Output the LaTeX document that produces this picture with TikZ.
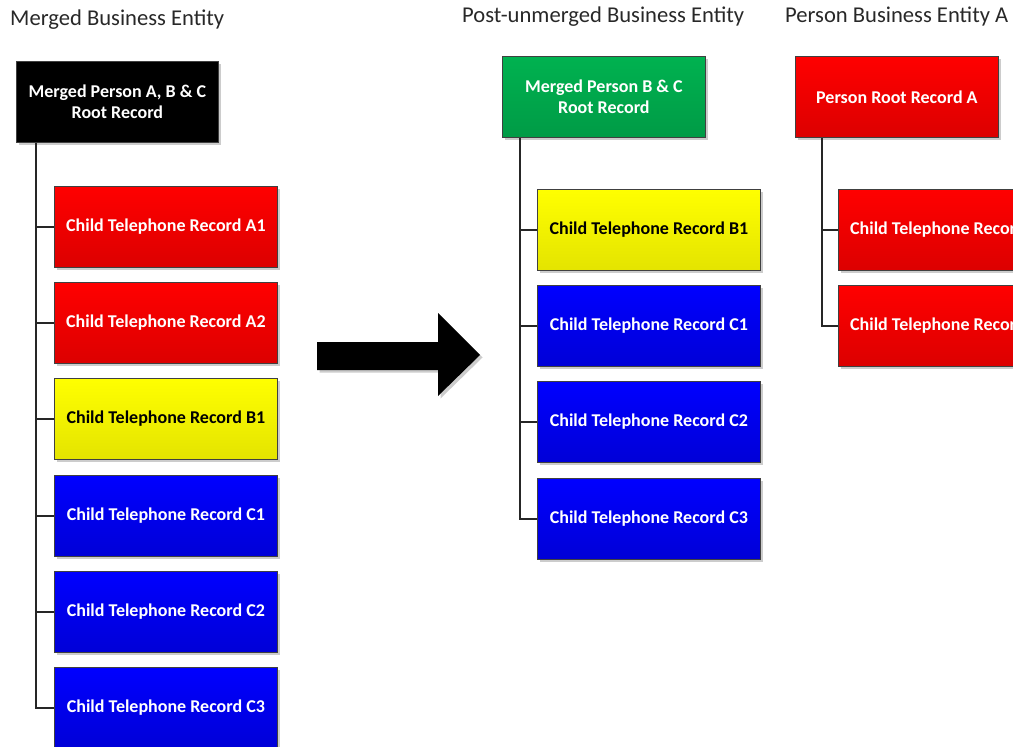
\documentclass[tikz,border=0pt]{standalone}
\usepackage{fontspec}
\setmainfont{Carlito}
\usetikzlibrary{shadows}
\definecolor{redtop}{RGB}{255,0,0}
\definecolor{redbot}{RGB}{220,0,0}
\definecolor{yeltop}{RGB}{255,255,0}
\definecolor{yelbot}{RGB}{228,228,0}
\definecolor{blutop}{RGB}{0,0,255}
\definecolor{blubot}{RGB}{0,0,215}
\definecolor{grntop}{RGB}{0,178,80}
\definecolor{grnbot}{RGB}{0,155,70}
\definecolor{edge}{RGB}{64,64,64}
\definecolor{titlecol}{RGB}{40,40,40}
\begin{document}
\begin{tikzpicture}[x=1pt,y=-1pt,
  rec/.style={draw=edge, line width=0.8pt, minimum height=81pt, anchor=north west,
    font=\bfseries\fontsize{18}{21}\selectfont, text=white, align=center, inner sep=0pt,
    drop shadow={shadow xshift=2.5pt, shadow yshift=-2.5pt, opacity=0.2, fill=black}},
  rootbox/.style={rec, minimum width=203pt},
  childbox/.style={rec, minimum width=223pt},
  redbox/.style={top color=redtop, bottom color=redbot},
  yelbox/.style={top color=yeltop, bottom color=yelbot, text=black},
  blubox/.style={top color=blutop, bottom color=blubot},
  grnbox/.style={top color=grntop, bottom color=grnbot},
  blkbox/.style={fill=black},
  title/.style={anchor=west, inner sep=0pt, font=\fontsize{22.6}{26}\selectfont, text=titlecol},
  link/.style={draw=black!85, line width=1.6pt}
]
\useasboundingbox (0,0) rectangle (1013,747);
\clip (0,0) rectangle (1013,747);

% titles
\node[title] (t1) at (10,20) {Merged Business Entity};
\node[title] (t2) at (462,17) {Post-unmerged Business Entity};
\node[title] (t3) at (785,17) {Person Business Entity A};

% left column
\node[rootbox, blkbox, minimum width=202pt] (lr) at (16,61) {Merged Person A, B \& C\\Root Record};
\node[childbox, redbox] (la1) at (54,186) {Child Telephone Record A1};
\node[childbox, redbox] (la2) at (54,282) {Child Telephone Record A2};
\node[childbox, yelbox] (lb1) at (54,378) {Child Telephone Record B1};
\node[childbox, blubox] (lc1) at (54,475) {Child Telephone Record C1};
\node[childbox, blubox] (lc2) at (54,571) {Child Telephone Record C2};
\node[childbox, blubox] (lc3) at (54,667) {Child Telephone Record C3};
\coordinate (ls) at ([xshift=20pt]lr.south west);
\draw[link] (ls) |- (lc3.west);
\foreach \n in {la1,la2,lb1,lc1,lc2}{\draw[link] (ls |- \n.west) -- (\n.west);}

% middle column
\node[rootbox, grnbox] (mr) at (502,56) {Merged Person B \& C\\Root Record};
\node[childbox, yelbox] (mb1) at (537,189) {Child Telephone Record B1};
\node[childbox, blubox] (mc1) at (537,285) {Child Telephone Record C1};
\node[childbox, blubox] (mc2) at (537,381) {Child Telephone Record C2};
\node[childbox, blubox] (mc3) at (537,478) {Child Telephone Record C3};
\coordinate (ms) at ([xshift=18pt]mr.south west);
\draw[link] (ms) |- (mc3.west);
\foreach \n in {mb1,mc1,mc2}{\draw[link] (ms |- \n.west) -- (\n.west);}

% right column
\node[rootbox, redbox] (rr) at (795,56) {Person Root Record A};
\node[childbox, redbox] (ra1) at (838,189) {Child Telephone Record A1};
\node[childbox, redbox] (ra2) at (838,285) {Child Telephone Record A2};
\coordinate (rs) at ([xshift=27pt]rr.south west);
\draw[link] (rs) |- (ra2.west);
\draw[link] (rs |- ra1.west) -- (ra1.west);

% big arrow
\fill[black, drop shadow={shadow xshift=2.5pt, shadow yshift=-2.5pt, opacity=0.2, fill=black}]
  (317,342) -- (438,342) -- (438,313) -- (480,355) -- (438,396) -- (438,370) -- (317,370) -- cycle;
\end{tikzpicture}
\end{document}
